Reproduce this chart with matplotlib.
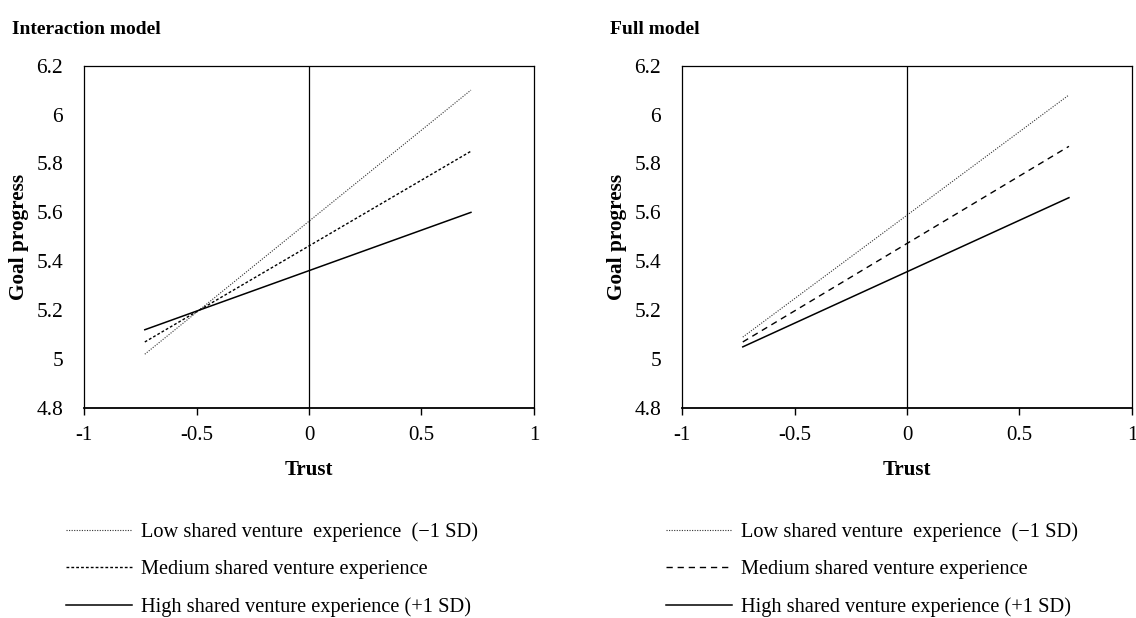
import matplotlib
matplotlib.use("Agg")
from matplotlib import pyplot as plt
from matplotlib.lines import Line2D

plt.rcParams["font.family"] = ["Liberation Serif", "DejaVu Serif"]

# Trust values at which the simple slopes are drawn
trust = [-0.73, 0.72]

# Goal progress at the two ends, per model
interaction_low = [5.02, 6.10]
interaction_med = [5.07, 5.85]
interaction_high = [5.12, 5.60]

full_low = [5.09, 6.08]
full_med = [5.07, 5.87]
full_high = [5.05, 5.66]

labels = [
    "Low shared venture  experience  (\u22121 SD)",
    "Medium shared venture experience",
    "High shared venture experience (+1 SD)",
]
titles = ["Interaction model", "Full model"]
yticks = [4.8, 5, 5.2, 5.4, 5.6, 5.8, 6, 6.2]
ytick_labels = ["4.8", "5", "5.2", "5.4", "5.6", "5.8", "6", "6.2"]
xticks = [-1, -0.5, 0, 0.5, 1]
xtick_labels = ["-1", "-0.5", "0", "0.5", "1"]

fig = plt.figure(figsize=(11.36, 6.18), dpi=100)

dotted = (0, (1.0, 1.3))
panels = [
    (0.074, titles[0], (interaction_low, interaction_med, interaction_high), (0, (2.0, 1.5)), 0.011, 0.058),
    (0.6004, titles[1], (full_low, full_med, full_high), (0, (4.5, 3.5)), 0.537, 0.586),
]

for left, title, (low, med, high), med_dash, title_x, leg_x in panels:
    ax = fig.add_axes([left, 0.3398, 0.396, 0.554])

    ax.plot(trust, low, color="#333333", lw=0.8, linestyle=dotted)
    ax.plot(trust, med, color="black", lw=1.0, linestyle=med_dash)
    ax.plot(trust, high, color="black", lw=1.1, linestyle="-")
    ax.axvline(0, color="black", lw=0.9)

    ax.set_xlim(-1, 1)
    ax.set_ylim(4.8, 6.2)
    ax.set_xticks(xticks)
    ax.set_xticklabels(xtick_labels, fontsize=15)
    ax.set_yticks(yticks)
    ax.set_yticklabels(ytick_labels, fontsize=15.5)
    ax.tick_params(axis="y", length=0, pad=15)
    ax.tick_params(axis="x", direction="out", length=5, width=1.0, pad=8)
    for s in ["top", "right", "left"]:
        ax.spines[s].set_linewidth(0.9)
    ax.spines["bottom"].set_linewidth(1.3)

    ax.set_xlabel("Trust", fontsize=15, fontweight="bold", labelpad=11)
    ax.set_ylabel("Goal progress", fontsize=15.3, fontweight="bold", labelpad=5)

    fig.text(title_x, 0.952, title, fontsize=14, fontweight="bold", va="center")

    handles = [
        Line2D([], [], color="#333333", lw=0.8, linestyle=dotted),
        Line2D([], [], color="black", lw=1.0, linestyle=med_dash),
        Line2D([], [], color="black", lw=1.1, linestyle="-"),
    ]
    fig.legend(
        handles,
        labels,
        loc="upper left",
        bbox_to_anchor=(leg_x, 0.155),
        frameon=False,
        fontsize=14.7,
        handlelength=3.25,
        handletextpad=0.44,
        labelspacing=0.88,
        borderaxespad=0,
        borderpad=0,
    )

plt.savefig("out.png", dpi=100)
